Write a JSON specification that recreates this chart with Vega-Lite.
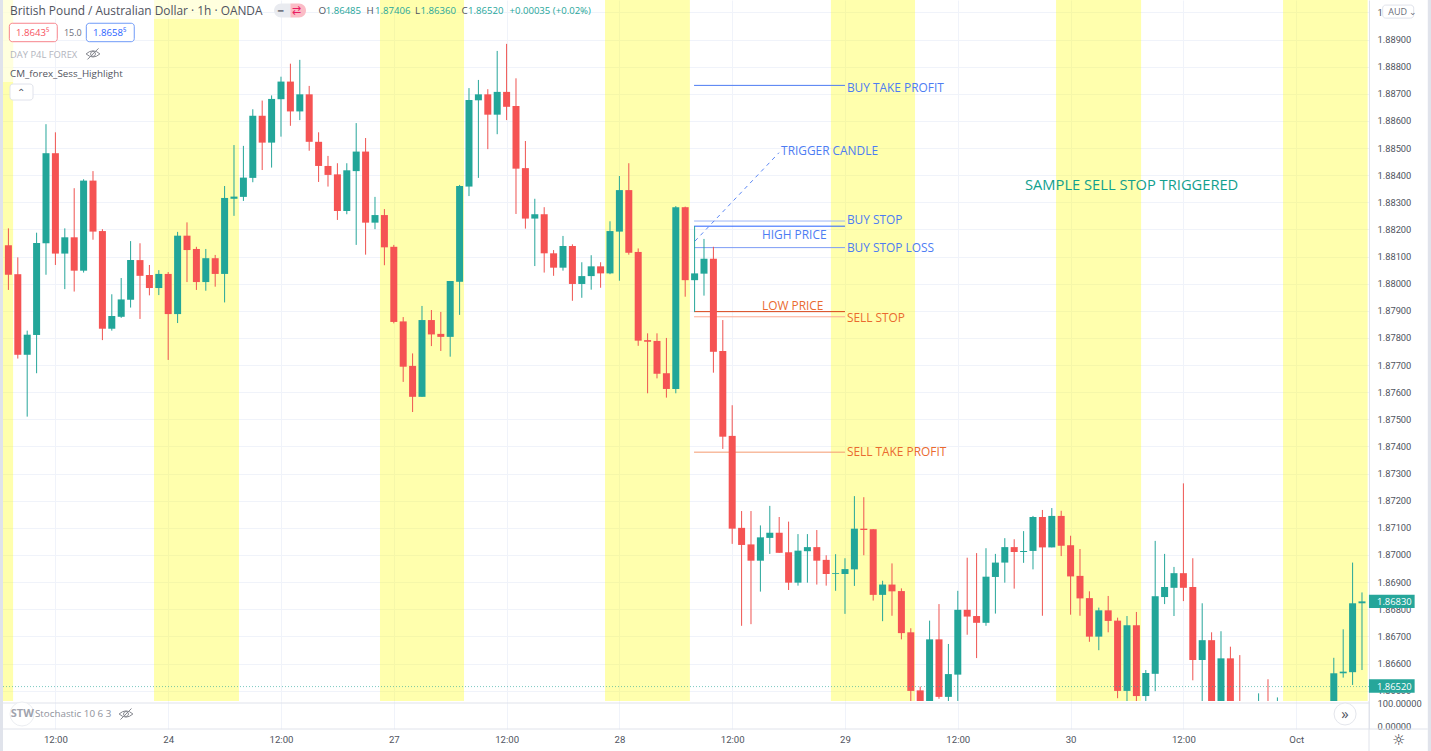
{"$schema":"https://vega.github.io/schema/vega-lite/v6.json","padding":0,"background":"#ffffff","spacing":0,"bounds":"flush","config":{"view":{"stroke":null},"legend":{"disable":true},"text":{"font":"Open Sans"},"axis":{"labelFont":"Roboto"}},
"datasets":{
"candles":[
{"i":0,"o":1.88142,"h":1.88204,"l":1.87977,"c":1.88033},{"i":1,"o":1.88035,"h":1.88097,"l":1.87724,"c":1.87738},{"i":2,"o":1.87738,"h":1.87827,"l":1.8751,"c":1.87812},{"i":3,"o":1.87811,"h":1.88188,"l":1.8767,"c":1.8815},{"i":4,"o":1.88149,"h":1.88588,"l":1.88033,"c":1.88481},{"i":5,"o":1.88481,"h":1.88558,"l":1.88069,"c":1.88111},{"i":6,"o":1.88111,"h":1.88204,"l":1.8798,"c":1.88171},{"i":7,"o":1.88171,"h":1.88352,"l":1.87971,"c":1.88048},{"i":8,"o":1.88048,"h":1.88385,"l":1.88041,"c":1.8838},{"i":9,"o":1.8838,"h":1.88415,"l":1.88162,"c":1.88192},
{"i":10,"o":1.88194,"h":1.88201,"l":1.87792,"c":1.87834},{"i":11,"o":1.87834,"h":1.87961,"l":1.87827,"c":1.87881},{"i":12,"o":1.87878,"h":1.88021,"l":1.87874,"c":1.87942},{"i":13,"o":1.87941,"h":1.88157,"l":1.87912,"c":1.88087},{"i":14,"o":1.88087,"h":1.88149,"l":1.8787,"c":1.88029},{"i":15,"o":1.88032,"h":1.88069,"l":1.87957,"c":1.87984},{"i":16,"o":1.87984,"h":1.8805,"l":1.87958,"c":1.88036},{"i":17,"o":1.88036,"h":1.88043,"l":1.87719,"c":1.87888},{"i":18,"o":1.87888,"h":1.88191,"l":1.87855,"c":1.88177},{"i":19,"o":1.88177,"h":1.88226,"l":1.88006,"c":1.88124},
{"i":20,"o":1.88128,"h":1.88136,"l":1.87977,"c":1.88006},{"i":21,"o":1.88006,"h":1.88128,"l":1.87974,"c":1.88094},{"i":22,"o":1.88094,"h":1.88106,"l":1.87989,"c":1.88036},{"i":23,"o":1.88036,"h":1.8836,"l":1.87931,"c":1.88316},{"i":24,"o":1.88313,"h":1.88511,"l":1.8825,"c":1.88321},{"i":25,"o":1.8832,"h":1.88508,"l":1.88305,"c":1.88391},{"i":26,"o":1.8839,"h":1.88643,"l":1.88374,"c":1.88619},{"i":27,"o":1.88619,"h":1.88675,"l":1.88419,"c":1.8852},{"i":28,"o":1.8852,"h":1.88694,"l":1.88428,"c":1.88681},{"i":29,"o":1.8868,"h":1.88763,"l":1.88542,"c":1.88745},
{"i":30,"o":1.88745,"h":1.88811,"l":1.88582,"c":1.88635},{"i":31,"o":1.88635,"h":1.88825,"l":1.88603,"c":1.88698},{"i":32,"o":1.88698,"h":1.88729,"l":1.8849,"c":1.88523},{"i":33,"o":1.88523,"h":1.88558,"l":1.88375,"c":1.88434},{"i":34,"o":1.88434,"h":1.88471,"l":1.88358,"c":1.88401},{"i":35,"o":1.88403,"h":1.88444,"l":1.88235,"c":1.88268},{"i":36,"o":1.88268,"h":1.88444,"l":1.88256,"c":1.88418},{"i":37,"o":1.88415,"h":1.88592,"l":1.88143,"c":1.88487},{"i":38,"o":1.88487,"h":1.88537,"l":1.88107,"c":1.88225},{"i":39,"o":1.88225,"h":1.8832,"l":1.88201,"c":1.88253},
{"i":40,"o":1.88253,"h":1.88275,"l":1.88068,"c":1.88134},{"i":41,"o":1.88136,"h":1.88143,"l":1.87854,"c":1.87859},{"i":42,"o":1.87861,"h":1.87877,"l":1.87638,"c":1.87694},{"i":43,"o":1.87697,"h":1.87743,"l":1.87527,"c":1.87583},{"i":44,"o":1.87583,"h":1.87918,"l":1.87583,"c":1.87866},{"i":45,"o":1.87866,"h":1.87903,"l":1.8777,"c":1.87813},{"i":46,"o":1.87815,"h":1.87896,"l":1.87752,"c":1.87804},{"i":47,"o":1.87804,"h":1.8801,"l":1.87731,"c":1.8801},{"i":48,"o":1.88007,"h":1.88364,"l":1.87885,"c":1.8836},{"i":49,"o":1.88358,"h":1.88721,"l":1.88323,"c":1.88677},
{"i":50,"o":1.88676,"h":1.88751,"l":1.8839,"c":1.88698},{"i":51,"o":1.88698,"h":1.88717,"l":1.88496,"c":1.88623},{"i":52,"o":1.88623,"h":1.88858,"l":1.88551,"c":1.88707},{"i":53,"o":1.88707,"h":1.88884,"l":1.88603,"c":1.88652},{"i":54,"o":1.88655,"h":1.88757,"l":1.88257,"c":1.88424},{"i":55,"o":1.88426,"h":1.88526,"l":1.88203,"c":1.8824},{"i":56,"o":1.8824,"h":1.88313,"l":1.88065,"c":1.88256},{"i":57,"o":1.88256,"h":1.88282,"l":1.88041,"c":1.88112},{"i":58,"o":1.88112,"h":1.88124,"l":1.88029,"c":1.88059},{"i":59,"o":1.88059,"h":1.88176,"l":1.88048,"c":1.88139},
{"i":60,"o":1.88139,"h":1.88145,"l":1.87937,"c":1.87999},{"i":61,"o":1.87999,"h":1.88079,"l":1.87948,"c":1.88028},{"i":62,"o":1.88028,"h":1.88105,"l":1.87978,"c":1.88064},{"i":63,"o":1.88064,"h":1.88079,"l":1.87985,"c":1.88038},{"i":64,"o":1.88038,"h":1.8823,"l":1.88035,"c":1.88194},{"i":65,"o":1.88192,"h":1.88397,"l":1.88011,"c":1.88345},{"i":66,"o":1.88345,"h":1.88444,"l":1.88107,"c":1.88114},{"i":67,"o":1.88117,"h":1.8813,"l":1.87771,"c":1.8779},{"i":68,"o":1.87792,"h":1.87817,"l":1.87596,"c":1.87786},{"i":69,"o":1.87789,"h":1.87817,"l":1.87651,"c":1.87668},
{"i":70,"o":1.8767,"h":1.878,"l":1.8758,"c":1.87612},{"i":71,"o":1.87612,"h":1.88286,"l":1.87596,"c":1.88282},{"i":72,"o":1.88282,"h":1.88284,"l":1.87952,"c":1.88013},{"i":73,"o":1.88013,"h":1.88212,"l":1.87896,"c":1.88038},{"i":74,"o":1.88037,"h":1.88165,"l":1.87956,"c":1.88092},{"i":75,"o":1.88092,"h":1.88136,"l":1.87672,"c":1.87749},{"i":76,"o":1.87752,"h":1.87866,"l":1.87391,"c":1.87436},{"i":77,"o":1.87439,"h":1.87552,"l":1.87041,"c":1.87097},{"i":78,"o":1.871,"h":1.87162,"l":1.86739,"c":1.87037},{"i":79,"o":1.87039,"h":1.87162,"l":1.86745,"c":1.86979},
{"i":80,"o":1.86979,"h":1.87109,"l":1.86865,"c":1.87065},{"i":81,"o":1.87063,"h":1.87181,"l":1.87004,"c":1.87082},{"i":82,"o":1.87082,"h":1.8714,"l":1.87008,"c":1.87008},{"i":83,"o":1.8701,"h":1.87123,"l":1.86871,"c":1.86898},{"i":84,"o":1.86898,"h":1.87077,"l":1.86887,"c":1.87016},{"i":85,"o":1.87014,"h":1.87077,"l":1.86898,"c":1.87029},{"i":86,"o":1.87029,"h":1.87092,"l":1.86891,"c":1.86979},{"i":87,"o":1.86982,"h":1.86999,"l":1.86887,"c":1.8693},{"i":88,"o":1.8693,"h":1.87003,"l":1.86868,"c":1.86933},{"i":89,"o":1.8693,"h":1.86988,"l":1.86783,"c":1.86948},
{"i":90,"o":1.86947,"h":1.87217,"l":1.86886,"c":1.87097},{"i":91,"o":1.87097,"h":1.87213,"l":1.86999,"c":1.87092},{"i":92,"o":1.87095,"h":1.87095,"l":1.86832,"c":1.86853},{"i":93,"o":1.86853,"h":1.86905,"l":1.86756,"c":1.86891},{"i":94,"o":1.86891,"h":1.86969,"l":1.86776,"c":1.86866},{"i":95,"o":1.86867,"h":1.86877,"l":1.86689,"c":1.86712},{"i":96,"o":1.86715,"h":1.8673,"l":1.86447,"c":1.86499},{"i":97,"o":1.86501,"h":1.86515,"l":1.86373,"c":1.8641},{"i":98,"o":1.8641,"h":1.86758,"l":1.86373,"c":1.86689},{"i":99,"o":1.86689,"h":1.86819,"l":1.8647,"c":1.86477},
{"i":100,"o":1.86477,"h":1.86672,"l":1.86447,"c":1.86561},{"i":101,"o":1.86559,"h":1.86868,"l":1.8641,"c":1.86798},{"i":102,"o":1.86798,"h":1.8699,"l":1.86706,"c":1.86773},{"i":103,"o":1.86775,"h":1.87007,"l":1.8662,"c":1.8675},{"i":104,"o":1.8675,"h":1.87025,"l":1.86739,"c":1.8692},{"i":105,"o":1.86919,"h":1.87004,"l":1.86784,"c":1.86972},{"i":106,"o":1.86972,"h":1.87062,"l":1.86898,"c":1.87029},{"i":107,"o":1.87029,"h":1.87058,"l":1.86876,"c":1.87011},{"i":108,"o":1.87011,"h":1.87088,"l":1.86971,"c":1.87015},{"i":109,"o":1.87015,"h":1.87144,"l":1.86947,"c":1.8714},
{"i":110,"o":1.8714,"h":1.87166,"l":1.86776,"c":1.87028},{"i":111,"o":1.87028,"h":1.87173,"l":1.87028,"c":1.87144},{"i":112,"o":1.87144,"h":1.87163,"l":1.86996,"c":1.87034},{"i":113,"o":1.87036,"h":1.87071,"l":1.8678,"c":1.86921},{"i":114,"o":1.86923,"h":1.87022,"l":1.86776,"c":1.8684},{"i":115,"o":1.86841,"h":1.86866,"l":1.8668,"c":1.86699},{"i":116,"o":1.86699,"h":1.86806,"l":1.86649,"c":1.86796},{"i":117,"o":1.86796,"h":1.86849,"l":1.86715,"c":1.86757},{"i":118,"o":1.86758,"h":1.86769,"l":1.86472,"c":1.86499},{"i":119,"o":1.86499,"h":1.86775,"l":1.86447,"c":1.86741},
{"i":120,"o":1.86741,"h":1.8679,"l":1.86447,"c":1.8648},{"i":121,"o":1.8648,"h":1.86576,"l":1.86447,"c":1.86565},{"i":122,"o":1.86562,"h":1.87052,"l":1.86498,"c":1.86848},{"i":123,"o":1.86845,"h":1.87004,"l":1.86819,"c":1.86882},{"i":124,"o":1.86879,"h":1.86956,"l":1.86775,"c":1.86933},{"i":125,"o":1.86933,"h":1.87264,"l":1.8683,"c":1.86879},{"i":126,"o":1.86882,"h":1.86988,"l":1.86538,"c":1.86613},{"i":127,"o":1.86613,"h":1.86822,"l":1.86447,"c":1.86686},{"i":128,"o":1.86686,"h":1.86715,"l":1.86373,"c":1.8641},{"i":129,"o":1.8641,"h":1.86719,"l":1.86373,"c":1.86619},
{"i":130,"o":1.86619,"h":1.86662,"l":1.86373,"c":1.8641},{"i":131,"o":1.86429,"h":1.86631,"l":1.86337,"c":1.86373},{"i":133,"o":1.8639,"h":1.8649,"l":1.8638,"c":1.8642},{"i":134,"o":1.8642,"h":1.86542,"l":1.8638,"c":1.8639},{"i":135,"o":1.8639,"h":1.86475,"l":1.8638,"c":1.8642},{"i":141,"o":1.864,"h":1.86621,"l":1.8638,"c":1.86564},{"i":142,"o":1.86564,"h":1.86726,"l":1.86548,"c":1.8657},{"i":143,"o":1.86568,"h":1.86972,"l":1.86521,"c":1.86822},{"i":144,"o":1.86822,"h":1.86862,"l":1.86576,"c":1.86829}
],
"notes":[
{"i":0.17,"p":1.89007,"text":"British Pound / Australian Dollar · 1h · OANDA","kind":"title"},
{"i":33.0,"p":1.89007,"text":"O","kind":"head"},{"i":33.75,"p":1.89007,"text":"1.86485","kind":"ohlc"},
{"i":38.1,"p":1.89007,"text":"H","kind":"head"},{"i":39.0,"p":1.89007,"text":"1.87406","kind":"ohlc"},
{"i":43.25,"p":1.89007,"text":"L","kind":"head"},{"i":43.85,"p":1.89007,"text":"1.86360","kind":"ohlc"},
{"i":48.2,"p":1.89007,"text":"C","kind":"head"},{"i":48.9,"p":1.89007,"text":"1.86520","kind":"ohlc"},
{"i":53.3,"p":1.89007,"text":"+0.00035 (+0.02%)","kind":"ohlc"},
{"i":0.81,"p":1.88926,"text":"1.8643⁵","kind":"red"},{"i":5.91,"p":1.88926,"text":"15.0","kind":"small"},{"i":9.0,"p":1.88926,"text":"1.8658⁵","kind":"bluebox"},
{"i":0.17,"p":1.88845,"text":"DAY P4L FOREX","kind":"muted"},{"i":0.17,"p":1.88775,"text":"CM_forex_Sess_Highlight","kind":"head"},
{"i":89.2,"p":1.88726,"text":"BUY TAKE PROFIT","kind":"blue"},{"i":82.2,"p":1.88493,"text":"TRIGGER CANDLE","kind":"blue"},
{"i":89.2,"p":1.8824,"text":"BUY STOP","kind":"blue"},{"i":80.17,"p":1.88183,"text":"HIGH PRICE","kind":"blue"},{"i":89.2,"p":1.88135,"text":"BUY STOP LOSS","kind":"blue"},
{"i":80.17,"p":1.8792,"text":"LOW PRICE","kind":"orange"},{"i":89.2,"p":1.87879,"text":"SELL STOP","kind":"orange"},{"i":89.2,"p":1.87382,"text":"SELL TAKE PROFIT","kind":"orange"},
{"i":108.15,"p":1.88364,"text":"SAMPLE SELL STOP TRIGGERED","kind":"sample"},
{"i":145.6,"p":1.86829,"text":"1.86830","kind":"white"},{"i":145.6,"p":1.86517,"text":"1.86520","kind":"white"},
{"i":146.8,"p":1.89005,"text":"AUD ⌄","kind":"small"},{"i":28.7,"p":1.89007,"text":"━","kind":"small"},{"i":30.2,"p":1.89007,"text":"⇄","kind":"pink"},{"i":0.95,"p":1.88707,"text":"⌃","kind":"head"}
]},
"vconcat":[
{"width":1369,"height":701,
"encoding":{"x":{"field":"i","type":"quantitative","scale":{"domain":[-0.8936,144.745],"nice":false,"zero":false,"padding":0},"axis":{"title":null,"values":[5,17,29,41,53,65,77,89,101,113,125,137],"labels":false,"ticks":false,"domain":false,"grid":true,"gridColor":"#f0f3fa"}},
"y":{"field":"p","type":"quantitative","scale":{"domain":[1.864618,1.890457],"nice":false,"zero":false},"axis":{"title":null,"orient":"right","values":[1.865,1.866,1.867,1.868,1.869,1.87,1.871,1.872,1.873,1.874,1.875,1.876,1.877,1.878,1.879,1.88,1.881,1.882,1.883,1.884,1.885,1.886,1.887,1.888,1.889,1.89],"format":".5f","grid":true,"gridColor":"#f0f3fa","ticks":false,"domain":true,"domainColor":"#e0e3eb","labelPadding":8,"labelFontSize":9.3,"labelColor":"#4f5460","labelOverlap":false,"labelBound":false}}},
"layer":[
{"data":{"values":[{"i":-0.574,"i2":0.5,"p":1.890457,"p2":1.864618},{"i":15.49,"i2":24.53,"p":1.890457,"p2":1.864618},{"i":39.53,"i2":48.47,"p":1.890457,"p2":1.864618},{"i":63.47,"i2":72.5,"p":1.890457,"p2":1.864618},{"i":87.5,"i2":96.45,"p":1.890457,"p2":1.864618},{"i":111.45,"i2":120.5,"p":1.890457,"p2":1.864618},{"i":135.6,"i2":144.6,"p":1.890457,"p2":1.864618}]},
"mark":{"type":"rect","color":"#ffff00","opacity":0.32},"encoding":{"x2":{"field":"i2"},"y2":{"field":"p2"}}},
{"data":{"values":[{"i":-0.574,"i2":24.53,"p":1.890457,"p2":1.88976},{"i":-0.574,"i2":0.5,"p":1.88976,"p2":1.88743}]},"mark":{"type":"rect","color":"#ffffff","opacity":0.6},"encoding":{"x2":{"field":"i2"},"y2":{"field":"p2"}}},
{"data":{"values":[{"i":-0.893,"i2":-0.574,"p":1.890457,"p2":1.864618},{"i":151.0,"i2":151.4,"p":1.890457,"p2":1.864618}]},"mark":{"type":"rect","color":"#e0e3eb"},"encoding":{"x2":{"field":"i2"},"y2":{"field":"p2"}}},
{"data":{"values":[{"i":72.94,"i2":89.0,"p":1.88731,"kind":"l_tp"},{"i":72.94,"i2":89.0,"p":1.88231,"kind":"l_stop"},{"i":72.94,"i2":89.0,"p":1.88212,"kind":"l_high"},{"i":72.94,"i2":89.0,"p":1.88133,"kind":"l_loss"},{"i":72.94,"i2":89.0,"p":1.87897,"kind":"l_low"},{"i":72.94,"i2":89.0,"p":1.87878,"kind":"l_sell"},{"i":72.94,"i2":89.0,"p":1.87379,"kind":"l_stp"}]},
"mark":{"type":"rule","strokeWidth":1},"encoding":{"x2":{"field":"i2"},"color":{"field":"kind","type":"nominal","scale":{"domain":["title","head","small","ohlc","blue","orange","sample","muted","red","bluebox","white","pink","l_tp","l_stop","l_high","l_loss","l_low","l_sell","l_stp"],"range":["#50535e","#50535e","#6a6d78","#26a69a","#4d7cf3","#ea6a2f","#12a08e","#b2b5be","#f7525f","#2962ff","#ffffff","#e91e63","#4d7cf3","#9db5f6","#2962ff","#7d9df5","#d84315","#ffab91","#f49a70"]}}}},
{"data":{"values":[{"i":73.04,"i2":81.98,"p":1.88157,"p2":1.88483}]},"mark":{"type":"rule","color":"#5b87f5","strokeWidth":1,"strokeDash":[4,4]},"encoding":{"x2":{"field":"i2"},"y2":{"field":"p2"}}},
{"data":{"name":"candles"},"mark":{"type":"rule","strokeWidth":1,"clip":true},"encoding":{"y":{"field":"l","type":"quantitative","scale":{"domain":[1.864618,1.890457],"nice":false,"zero":false}},"y2":{"field":"h"},"color":{"condition":{"test":"datum.c>=datum.o","value":"#26a69a"},"value":"#ef5350"}}},
{"data":{"name":"candles"},"mark":{"type":"bar","size":7,"clip":true},"encoding":{"y":{"field":"o","type":"quantitative","scale":{"domain":[1.864618,1.890457],"nice":false,"zero":false}},"y2":{"field":"c"},"color":{"condition":{"test":"datum.c>=datum.o","value":"#22a699"},"value":"#f55353"}}},
{"data":{"values":[{"i":-0.574,"i2":144.745,"p":1.86515}]},"mark":{"type":"rule","color":"#26a69a","strokeWidth":1,"strokeDash":[1,2],"opacity":0.6},"encoding":{"x2":{"field":"i2"}}},
{"data":{"values":[{"i":144.74,"i2":149.6,"p":1.86853,"p2":1.86805},{"i":144.74,"i2":149.6,"p":1.86542,"p2":1.86492}]},"mark":{"type":"rect","color":"#26a69a","clip":false},"encoding":{"x2":{"field":"i2"},"y2":{"field":"p2"}}},
{"data":{"values":[{"i":146.2,"i2":149.5,"p":1.89027,"p2":1.88979},{"i":0.17,"i2":2.62,"p":1.88736,"p2":1.88677}]},"mark":{"type":"rect","fill":"#ffffff","stroke":"#e0e3eb","strokeWidth":1,"cornerRadius":3},"encoding":{"x2":{"field":"i2"},"y2":{"field":"p2"}}},
{"data":{"values":[{"i":0.1,"i2":5.2,"p":1.8896,"p2":1.88892}]},"mark":{"type":"rect","fill":"#ffffff","stroke":"#f7848c","strokeWidth":1,"cornerRadius":3},"encoding":{"x2":{"field":"i2"},"y2":{"field":"p2"}}},
{"data":{"values":[{"i":8.29,"i2":13.39,"p":1.8896,"p2":1.88892}]},"mark":{"type":"rect","fill":"#ffffff","stroke":"#6f9af8","strokeWidth":1,"cornerRadius":3},"encoding":{"x2":{"field":"i2"},"y2":{"field":"p2"}}},
{"data":{"values":[{"i":28.26,"i2":30.0,"p":1.89033,"p2":1.88981}]},"mark":{"type":"rect","color":"#e9ebf0","cornerRadiusTopLeft":7,"cornerRadiusBottomLeft":7},"encoding":{"x2":{"field":"i2"},"y2":{"field":"p2"}}},
{"data":{"values":[{"i":30.0,"i2":31.66,"p":1.89033,"p2":1.88981}]},"mark":{"type":"rect","color":"#fbbcc6","cornerRadiusTopRight":7,"cornerRadiusBottomRight":7},"encoding":{"x2":{"field":"i2"},"y2":{"field":"p2"}}},
{"data":{"values":[{"i":9.0,"p":1.88847}]},"mark":{"type":"point","shape":"M-1,0Q0,-0.9 1,0Q0,0.9 -1,0ZM-0.8,0.8L0.8,-0.8M-0.35,0A0.35,0.35 0 1 0 0.35,0A0.35,0.35 0 1 0 -0.35,0","filled":false,"size":190,"stroke":"#50535e","strokeWidth":1}},
{"data":{"name":"notes"},"mark":{"type":"text","align":"left","baseline":"middle","dy":1},"encoding":{"text":{"field":"text"},"color":{"field":"kind","type":"nominal"},"size":{"field":"kind","type":"nominal","scale":{"type":"ordinal","domain":["title","head","small","ohlc","blue","orange","sample","muted","red","bluebox","white","pink"],"range":[11.9,9.8,9,9.6,11.9,11.9,14.7,9.4,9.6,9.6,9.4,11]}}}}
]},
{"width":1369,"height":28,
"encoding":{"x":{"field":"i","type":"quantitative","scale":{"domain":[-0.8936,144.745],"nice":false,"zero":false,"padding":0},"axis":{"title":null,"values":[5,17,29,41,53,65,77,89,101,113,125,137],"labelExpr":"datum.value==17?'24':datum.value==41?'27':datum.value==65?'28':datum.value==89?'29':datum.value==113?'30':datum.value==137?'Oct':'12:00'","ticks":false,"domain":false,"grid":true,"gridColor":"#f0f3fa","labelPadding":5,"labelFontSize":9.6,"labelColor":"#4f5460","labelOverlap":false,"labelBound":false,"labelFlush":false}},
"y":{"field":"v","type":"quantitative","scale":{"domain":[-13,108.7],"nice":false,"zero":false},"axis":{"title":null,"orient":"right","values":[0,100],"format":".5f","grid":false,"ticks":false,"domain":true,"domainColor":"#e0e3eb","labelPadding":8,"labelFontSize":9.3,"labelColor":"#4f5460","labelOverlap":false,"labelBound":false}}},
"layer":[
{"data":{"values":[{"i":-0.574,"i2":144.745,"v":100},{"i":-0.574,"i2":151.0,"v":-13}]},"mark":{"type":"rule","color":"#e0e3eb","strokeWidth":1},"encoding":{"x2":{"field":"i2"}}},
{"data":{"values":[{"i":144.745,"v":108.7,"v2":-108.7}]},"mark":{"type":"rule","color":"#e0e3eb","strokeWidth":1},"encoding":{"y2":{"field":"v2"}}},
{"data":{"values":[{"i":-0.893,"i2":-0.574,"v":108.7,"v2":-108.7},{"i":151.0,"i2":151.4,"v":108.7,"v2":-108.7}]},"mark":{"type":"rect","color":"#e0e3eb","clip":false},"encoding":{"x2":{"field":"i2"},"y2":{"field":"v2"}}},
{"data":{"values":[{"i":1.45,"v":52.2}]},"mark":{"type":"point","size":576,"filled":true,"fill":"#ffffff","stroke":"#eceef2","strokeWidth":1,"opacity":1}},
{"data":{"values":[{"i":142.2,"v":52.2}]},"mark":{"type":"point","size":484,"filled":true,"fill":"#ffffff","stroke":"#e4e6ec","strokeWidth":1,"opacity":1}},
{"data":{"values":[{"i":12.51,"v":52.2}]},"mark":{"type":"point","shape":"M-1,0Q0,-0.9 1,0Q0,0.9 -1,0ZM-0.8,0.8L0.8,-0.8M-0.35,0A0.35,0.35 0 1 0 0.35,0A0.35,0.35 0 1 0 -0.35,0","filled":false,"size":190,"stroke":"#50535e","strokeWidth":1}},
{"data":{"values":[{"i":0.25,"v":52.2,"text":"STW"}]},"mark":{"type":"text","align":"left","baseline":"middle","fontSize":11,"fontWeight":"bold","color":"#a0a3ad"},"encoding":{"text":{"field":"text"}}},
{"data":{"values":[{"i":2.83,"v":52.2,"text":"Stochastic 10 6 3"}]},"mark":{"type":"text","align":"left","baseline":"middle","fontSize":9.8,"color":"#8f929c"},"encoding":{"text":{"field":"text"}}},
{"data":{"values":[{"i":142.2,"v":52.2,"text":"»"}]},"mark":{"type":"text","align":"center","baseline":"middle","fontSize":15,"color":"#50535e"},"encoding":{"text":{"field":"text"}}},
{"data":{"values":[{"i":147.9,"v":-60.9,"text":"☼"}]},"mark":{"type":"text","align":"center","baseline":"middle","fontSize":15,"font":"DejaVu Sans","color":"#333740"},"encoding":{"text":{"field":"text"}}}
]}
]}
